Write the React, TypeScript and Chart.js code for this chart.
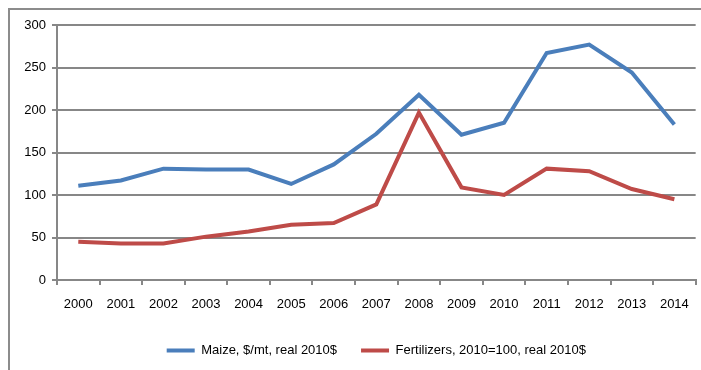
import React, { useEffect, useRef } from "react";
import { Chart, registerables } from "chart.js";

Chart.register(...registerables);

const years = ["2000","2001","2002","2003","2004","2005","2006","2007","2008","2009","2010","2011","2012","2013","2014"];
const maize = [111, 117, 131, 130, 130, 113, 136, 172, 218, 171, 185, 267, 277, 244, 183];
const fertilizers = [45, 43, 43, 51, 57, 65, 67, 89, 197, 109, 100, 131, 128, 107, 95];
const maizeLabel = "Maize, $/mt, real 2010$";
const fertLabel = "Fertilizers, 2010=100, real 2010$";

const FONT = "'Liberation Sans', Arial, sans-serif";
const GRID = "#878787";

export default function App() {
  const ref = useRef<HTMLCanvasElement | null>(null);
  useEffect(() => {
    if (!ref.current) return;
    const chart = new Chart(ref.current, {
      type: "line",
      data: {
        labels: years,
        datasets: [
          { label: maizeLabel, data: maize, borderColor: "#4a7ebb", backgroundColor: "#4a7ebb", borderWidth: 4, pointRadius: 0, tension: 0 },
          { label: fertLabel, data: fertilizers, borderColor: "#be4b48", backgroundColor: "#be4b48", borderWidth: 4, pointRadius: 0, tension: 0 },
        ],
      },
      options: {
        animation: false,
        responsive: false,
        layout: { padding: { left: 0, right: 5, top: 25, bottom: 3 } },
        plugins: {
          tooltip: { enabled: false },
          legend: {
            position: "bottom",
            fullSize: false,
            labels: {
              usePointStyle: true,
              pointStyle: "line",
              pointStyleWidth: 28,
              padding: 24,
              color: "#000",
              font: { family: FONT, size: 13 },
            },
          },
        },
        scales: {
          x: {
            offset: true,
            grid: { display: true, drawOnChartArea: false, drawTicks: true, tickLength: 5, offset: true, color: GRID, lineWidth: 2 },
            border: { color: GRID, width: 2 },
            ticks: { color: "#000", font: { family: FONT, size: 13 }, padding: 12, maxRotation: 0, autoSkip: false },
            afterFit: (s: any) => { s.height = 40; },
          },
          y: {
            min: 0,
            max: 300,
            ticks: { stepSize: 50, color: "#000", font: { family: FONT, size: 13 }, padding: 6 },
            grid: { color: GRID, lineWidth: 2, tickLength: 5 },
            border: { color: GRID, width: 2 },
            afterFit: (s: any) => { s.width = 57; },
          },
        },
      },
    });
    return () => chart.destroy();
  }, []);
  return (
    <div style={{ position: "absolute", left: 0, top: 0, width: 701, height: 370, background: "#fff" }}>
      <canvas ref={ref} width={701} height={370} style={{ position: "absolute", left: 0, top: 0 }} />
      <div style={{ position: "absolute", left: 8, top: 8, width: 701, height: 370, borderLeft: "2px solid #8c8c8c", borderTop: "2px solid #8c8c8c", pointerEvents: "none" }} />
    </div>
  );
}
